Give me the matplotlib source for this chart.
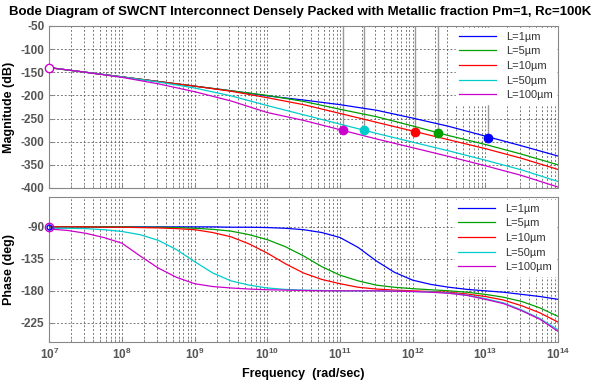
import numpy as np
import matplotlib
matplotlib.use("Agg")
import matplotlib.pyplot as plt
from matplotlib.ticker import (LogLocator, FixedLocator, FuncFormatter, NullFormatter,
                               LogFormatterSciNotation)

plt.rcParams['font.family'] = ['Liberation Sans', 'DejaVu Sans']
plt.rcParams['axes.unicode_minus'] = False

labels = ['L=1\u00b5m', 'L=5\u00b5m', 'L=10\u00b5m', 'L=50\u00b5m', 'L=100\u00b5m']
colors = ['#0000ff', '#00a000', '#ff0000', '#00cccc', '#cc00cc']
x_ticks = [1e7, 1e8, 1e9, 1e10, 1e11, 1e12, 1e13, 1e14]

# Magnitude (dB) sampled at log10(frequency)
mag_logf = [7, 7.5, 8, 8.5, 9, 9.5, 10, 10.5, 11, 11.5, 12, 12.5, 13, 13.5, 14]
mag_L1 = [-140, -150, -160, -170, -180, -190, -201, -210, -220, -232, -249, -267, -288, -309, -331]
mag_L5 = [-140, -150, -160, -170, -180, -190, -200, -213, -230, -246, -266, -287, -306, -327, -350]
mag_L10 = [-140, -150, -160, -170, -180, -191, -205, -220, -239, -258, -277, -296, -315, -336, -360]
mag_L50 = [-140, -150, -160, -171, -184, -201, -222, -242, -262, -282, -301, -320, -340, -361, -386]
mag_L100 = [-140, -150, -161, -175, -192, -212, -237, -254, -274, -294, -313, -332, -352, -373, -398]

# Phase (deg) sampled at log10(frequency)
ph_logf = [7, 7.25, 7.5, 7.75, 8, 8.25, 8.5, 8.75, 9, 9.25, 9.5, 9.75, 10, 10.25, 10.5,
           10.75, 11, 11.25, 11.5, 11.75, 12, 12.25, 12.5, 12.75, 13, 13.25, 13.5, 13.75, 14]
ph_L1 = [-90, -90, -90, -90, -90, -90, -90, -90, -90, -90, -90.5, -90.5, -91, -92, -94,
         -98, -105, -119, -138, -154, -165, -171, -175, -178, -180, -182, -185, -188, -192]
ph_L5 = [-90, -90, -90, -90, -90, -90.5, -90.5, -91, -92, -93.5, -96, -101, -108, -118, -131,
         -146, -158, -166, -172, -175, -177, -178.5, -180, -182, -185, -189, -195, -204, -216]
ph_L10 = [-90, -90, -90, -90.5, -90.5, -91, -91.5, -92.5, -94, -98, -104, -114, -127, -142, -155,
          -164, -170, -175, -177.5, -179, -180, -181, -182, -184.5, -188, -193, -201, -211, -224]
ph_L50 = [-92, -92, -92.5, -94, -96.5, -101, -109, -122, -139, -155, -166, -172, -176, -178, -179,
          -179.5, -180, -180, -180, -180.5, -181, -181.5, -183, -186, -191, -197, -207, -219, -235]
ph_L100 = [-93, -95, -99, -105, -113, -131, -148, -161, -170, -174, -176, -177.5, -178.5, -179, -179.5,
           -180, -180, -180, -180, -180.5, -181, -182, -183.5, -186.5, -192, -198, -208, -220, -237]

# Data-tip markers
tip_freq = [1.1e13, 2.2e12, 1.07e12, 2.15e11, 1.1e11]
tip_mag = [-292, -282, -278, -275, -275]

mags = [mag_L1, mag_L5, mag_L10, mag_L50, mag_L100]
phs = [ph_L1, ph_L5, ph_L10, ph_L50, ph_L100]

fig = plt.figure(figsize=(5.95, 3.86), dpi=100)
ax1 = fig.add_axes([0.0829, 0.513, 0.855, 0.4197])
ax2 = fig.add_axes([0.0829, 0.114, 0.855, 0.3756])

grid_kw = dict(color='#555555', linestyle=(0, (2.5, 2.5)), linewidth=0.55)
tick_color = '#555555'

for ax in (ax1, ax2):
    ax.set_xscale('log')
    ax.set_xlim(1e7, 1e14)
    ax.xaxis.set_major_locator(FixedLocator(x_ticks))
    ax.xaxis.set_minor_locator(LogLocator(base=10, subs=np.arange(2, 10), numticks=100))
    ax.xaxis.set_minor_formatter(NullFormatter())
    ax.grid(True, which='major', axis='both', **grid_kw)
    ax.grid(True, which='minor', axis='x', **grid_kw)
    ax.tick_params(which='both', direction='in', color='#888888', labelcolor=tick_color,
                   labelsize=8.5)
    ax.tick_params(which='major', length=3)
    ax.tick_params(which='minor', length=2)
    for s in ax.spines.values():
        s.set_color('#888888')
        s.set_linewidth(0.8)

fmt_int = FuncFormatter(lambda v, p: '%d' % v)

# Magnitude plot
for f_stem, m in zip(tip_freq, tip_mag):
    ax1.plot([f_stem, f_stem], [-50, m], color='#9a9a9a', linewidth=1.0, zorder=2)
for m, c, l in zip(mags, colors, labels):
    ax1.plot(10.0 ** np.array(mag_logf), m, color=c, linewidth=0.9, label=l, zorder=3)
for f_t, m, c in zip(tip_freq, tip_mag, colors):
    ax1.plot([f_t], [m], 'o', color=c, markersize=6, zorder=4)
ax1.plot([1e7], [mag_L100[0]], 'o', markerfacecolor='white', markeredgecolor='#cc00cc',
         markersize=6, clip_on=False, zorder=5)
ax1.set_ylim(-400, -50)
ax1.yaxis.set_major_locator(FixedLocator(np.arange(-400, -49, 50)))
ax1.yaxis.set_major_formatter(fmt_int)
ax1.xaxis.set_major_formatter(NullFormatter())
ax1.set_ylabel('Magnitude (dB)', fontsize=9, fontweight='bold')
ax1.yaxis.set_label_coords(-0.068, 0.5)
leg1 = ax1.legend(loc='upper right', fontsize=8, frameon=True, framealpha=1, edgecolor='white',
                  fancybox=False, handlelength=3.3, handletextpad=0.9, labelspacing=0.42,
                  borderaxespad=0.2, borderpad=0.3)
for t in leg1.get_texts():
    t.set_color('#333333')
leg1.set_zorder(10)

# Phase plot
for p, c, l in zip(phs, colors, labels):
    ax2.plot(10.0 ** np.array(ph_logf), p, color=c, linewidth=0.9, label=l, zorder=3)
ax2.plot([1e7], [ph_L1[0]], 'o', markerfacecolor='none', markeredgecolor='#cc00cc',
         markersize=6, clip_on=False, zorder=5)
ax2.plot([1e7], [ph_L1[0]], 'o', markerfacecolor='none', markeredgecolor='#0000ff',
         markersize=3.5, clip_on=False, zorder=5)
ax2.set_ylim(-252, -48)
ax2.yaxis.set_major_locator(FixedLocator([-225, -180, -135, -90]))
ax2.yaxis.set_major_formatter(fmt_int)
ax2.xaxis.set_major_formatter(LogFormatterSciNotation())
ax2.set_ylabel('Phase (deg)', fontsize=9, fontweight='bold')
ax2.yaxis.set_label_coords(-0.068, 0.5)
ax2.set_xlabel('Frequency  (rad/sec)', fontsize=9, fontweight='bold')
leg2 = ax2.legend(loc='upper right', fontsize=8, frameon=True, framealpha=1, edgecolor='white',
                  fancybox=False, handlelength=3.3, handletextpad=0.9, labelspacing=0.42,
                  borderaxespad=0.3, borderpad=0.3)
for t in leg2.get_texts():
    t.set_color('#333333')

fig.canvas.draw()
for ax in (ax1, ax2):
    for lab in ax.get_yticklabels() + ax.get_xticklabels():
        lab.set_fontweight('bold')

fig.suptitle('Bode Diagram of SWCNT Interconnect Densely Packed with Metallic fraction Pm=1, Rc=100K',
             x=0.505, y=0.985, fontsize=9.5, fontweight='bold')

fig.savefig('out.png', dpi=100)
